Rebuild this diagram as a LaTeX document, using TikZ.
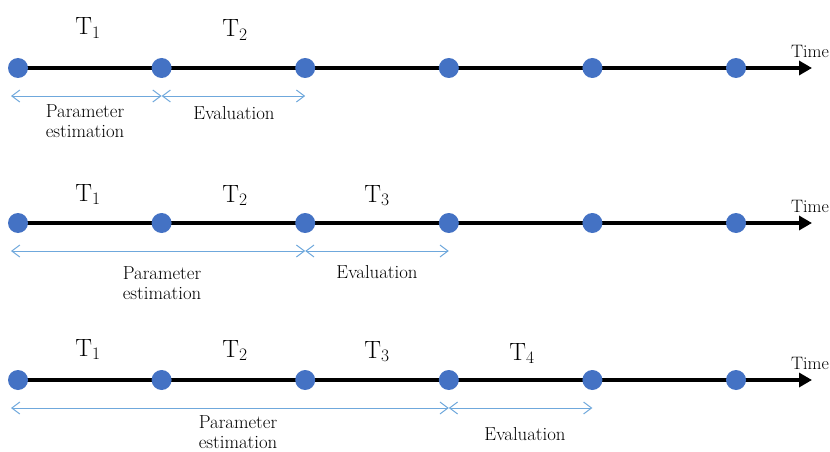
\documentclass[tikz,border=0pt]{standalone}
\usepackage{fontspec}
\usetikzlibrary{arrows.meta,backgrounds}

\definecolor{punctalbastru}{HTML}{4472C4}
\definecolor{intervalalbastru}{HTML}{6FA8DC}

\tikzset{
  punct/.style={circle,fill=punctalbastru,inner sep=0pt,minimum size=20pt},
  axa/.style={line width=4.5pt,-{Triangle[length=13pt,width=14pt]}},
  interval/.style={intervalalbastru,line width=1pt,
    {Straight Barb[length=8pt,width=12pt]}-{Straight Barb[length=8pt,width=12pt]}},
  perioada/.style={font=\fontsize{25}{25}\selectfont,anchor=base},
  eticheta/.style={font=\fontsize{18.8}{20}\selectfont,align=center},
  timp/.style={font=\fontsize{18}{18}\selectfont},
}

\begin{document}
\begin{tikzpicture}[x=1pt,y=-1pt]
  \useasboundingbox (0,0) rectangle (830,452);

  % axele timpului, cu punctele
  \foreach \r/\y in {1/68,2/223,3/380} {
    \foreach \i in {0,...,5}
      \node[punct] (r\r d\i) at ({18+143.6*\i},\y) {};
    \coordinate (r\r capat) at (812,\y);
    \coordinate (r\r start) at (11,\y+28);
    \node[timp] (r\r timp) at (810,\y-17) {Time};
    \begin{scope}[on background layer]
      \draw[axa] (r\r d0.center) -- (r\r capat);
    \end{scope}
  }

  % perioadele
  \node[perioada] (r1t1) at (88,35) {T\textsubscript{1}};
  \node[perioada] (r1t2) at (235,37) {T\textsubscript{2}};
  \node[perioada] (r2t1) at (88,201) {T\textsubscript{1}};
  \node[perioada] (r2t2) at (235,202) {T\textsubscript{2}};
  \node[perioada] (r2t3) at (377,202) {T\textsubscript{3}};
  \node[perioada] (r3t1) at (88,356) {T\textsubscript{1}};
  \node[perioada] (r3t2) at (235,357) {T\textsubscript{2}};
  \node[perioada] (r3t3) at (377,358) {T\textsubscript{3}};
  \node[perioada] (r3t4) at (522,360) {T\textsubscript{4}};

  % estimare si evaluare
  \draw[interval] (r1start) -- (r1start -| r1d1);
  \draw[interval] (r1start -| r1d1) -- (r1start -| r1d2);
  \draw[interval] (r2start) -- (r2start -| r2d2);
  \draw[interval] (r2start -| r2d2) -- (r2start -| r2d3);
  \draw[interval] (r3start) -- (r3start -| r3d3);
  \draw[interval] (r3start -| r3d3) -- (r3start -| r3d4);

  \node[eticheta] (r1est) at (85,121) {Parameter\\estimation};
  \node[eticheta] (r1ev) at (234,113) {Evaluation};
  \node[eticheta] (r2est) at (162,283) {Parameter\\estimation};
  \node[eticheta] (r2ev) at (377,272) {Evaluation};
  \node[eticheta] (r3est) at (238,432) {Parameter\\estimation};
  \node[eticheta] (r3ev) at (525,434) {Evaluation};
\end{tikzpicture}
\end{document}
